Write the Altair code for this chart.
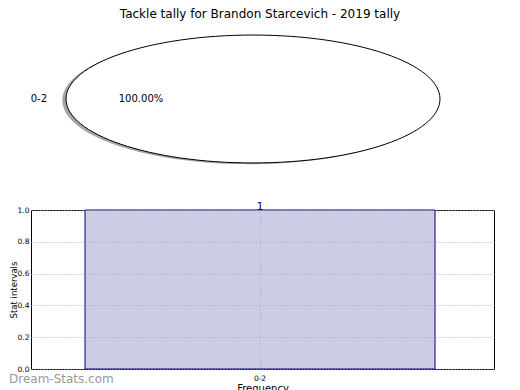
import altair as alt
import pandas as pd

# ---- data ----
intervals = ["0-2"]
counts = [1]
shares = [100.0]
y_ticks = [0.0, 0.2, 0.4, 0.6, 0.8, 1.0]
title_text = "Tackle tally for Brandon Starcevich - 2019 tally"
watermark_text = ["Dream-Stats.com"]

pie_df = pd.DataFrame({"interval": intervals, "share": shares})
pie_df["pct"] = [f"{v:.2f}%" for v in shares]
bar_df = pd.DataFrame({"interval": intervals, "count": counts})
wm_df = pd.DataFrame({"t": watermark_text})

FONT = "DejaVu Sans"
NAVY = "#000080"
RX = 187
ELLIPSE = "M -1 0 A 1 0.342 0 1 0 1 0 A 1 0.342 0 1 0 -1 0 Z"
SIZE = (2 * RX) ** 2

# ---- pie (single slice, drawn elliptical as in the reference) ----
pie_base = alt.Chart(pie_df).encode(
    x=alt.X("interval:N", axis=None),
    y=alt.Y("interval:N", axis=None),
)
shadow = pie_base.mark_point(
    shape=ELLIPSE, size=SIZE, filled=True, fill="#a6a6a6", opacity=1,
    strokeWidth=0, xOffset=-3.7, yOffset=1.3,
)
slice_ = pie_base.mark_point(
    shape=ELLIPSE, size=SIZE, filled=True, fill="white", stroke="black",
    strokeWidth=1, opacity=1,
)
slice_label = pie_base.mark_text(
    align="right", baseline="middle", dx=-206, fontSize=10, color="black"
).encode(text="interval:N")
pct_label = pie_base.mark_text(
    align="center", baseline="middle", dx=-112, fontSize=10, color="black"
).encode(text="pct:N")

pie = alt.layer(shadow, slice_, slice_label, pct_label).properties(
    width=444,
    height=148,
    title=alt.TitleParams(
        title_text, fontSize=12, fontWeight="normal", color="black",
        anchor="middle", dx=7,
    ),
    view=alt.ViewBackground(strokeOpacity=0),
)

# ---- bar chart ----
bar_base = alt.Chart(bar_df).encode(
    x=alt.X(
        "interval:N",
        title="Frequency",
        scale=alt.Scale(paddingInner=0, paddingOuter=0.1614, align=0.478),
        axis=alt.Axis(
            labelAngle=0, ticks=False, domain=False, grid=True, bandPosition=0.5,
            gridDash=[1, 2], gridColor="#aaaaaa", labelFontSize=7.5,
            labelColor="black", labelPadding=5, titleFontSize=10,
            titleFontWeight="normal", titleColor="black", titlePadding=2,
            zindex=1,
        ),
    ),
    y=alt.Y(
        "count:Q",
        title="Stat intervals",
        scale=alt.Scale(domain=[0, 1], nice=False),
        axis=alt.Axis(
            values=y_ticks, format=".1f", ticks=False, domain=False, grid=True,
            gridDash=[1, 2], gridColor="#aaaaaa", labelFontSize=7.5,
            labelColor="black", labelPadding=2, titleFontSize=8.5,
            titleFontWeight="normal", titleColor="black", titleAngle=270,
            titleX=-15, titleY=79.5, titleAlign="center",
            titleBaseline="alphabetic", zindex=1,
        ),
    ),
)
bars = bar_base.mark_bar(fill="#ccccE6", stroke=NAVY, strokeWidth=1)
count_label = bar_base.mark_text(
    baseline="alphabetic", align="center", fontSize=11, color=NAVY
).encode(text="count:Q")
watermark = alt.Chart(wm_df).mark_text(
    align="left", baseline="alphabetic", fontSize=12, color="#999999"
).encode(x=alt.value(-22), y=alt.value(173), text="t:N")

bar_panel = alt.layer(bars, count_label, watermark).properties(width=463, height=159)

chart = (
    alt.vconcat(pie, bar_panel, spacing=27)
    .properties(padding={"left": 0, "top": 0, "right": 0, "bottom": 0})
    .configure(font=FONT)
    .configure_view(stroke="black", strokeWidth=1)
)

chart.save("out.html", embed_options={"renderer": "svg", "actions": False})
